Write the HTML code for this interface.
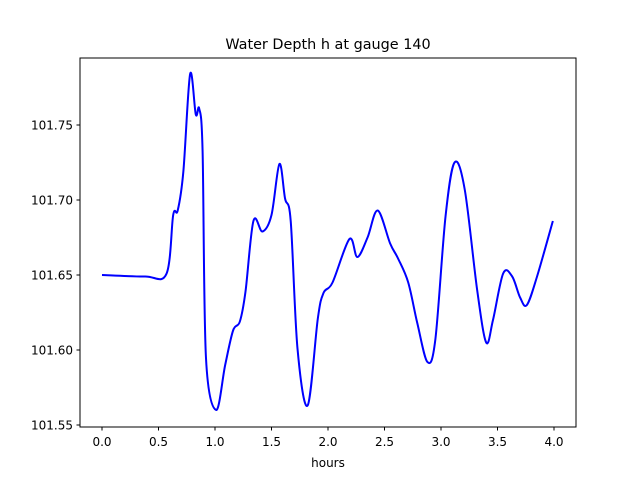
<!DOCTYPE html>
<html><head><meta charset="utf-8"><style>
body{margin:0;background:#fff}
svg text{font-family:"DejaVu Sans","Liberation Sans",sans-serif;fill:#000}
</style></head><body>
<svg id="chart" width="640" height="480" xmlns="http://www.w3.org/2000/svg">
<rect width="640" height="480" fill="#fff"/>
<text x="328" y="49" font-size="14.4" text-anchor="middle">Water Depth h at gauge 140</text>
<g id="ticks"></g>
<path id="line" fill="none" stroke="#0000ff" stroke-width="2"/>
<rect x="80" y="58" width="496" height="369" fill="none" stroke="#000" stroke-width="1"/>
<text x="328" y="467" font-size="12" text-anchor="middle">hours</text>
</svg>
<script>
const xs=[0,0.38,0.57,0.63,0.67,0.72,0.78,0.83,0.86,0.89,0.92,1.01,1.09,1.16,1.22,1.27,1.34,1.42,1.50,1.57,1.62,1.67,1.73,1.82,1.91,1.96,2.04,2.19,2.26,2.35,2.44,2.55,2.62,2.71,2.79,2.88,2.95,3.04,3.12,3.21,3.32,3.40,3.46,3.55,3.63,3.70,3.76,3.85,3.99];
const ys=[101.65,101.649,101.6507,101.69,101.693,101.719,101.784,101.757,101.761,101.733,101.595,101.56,101.59,101.613,101.619,101.639,101.686,101.679,101.69,101.724,101.701,101.686,101.601,101.563,101.621,101.638,101.645,101.674,101.662,101.675,101.693,101.671,101.661,101.645,101.618,101.592,101.607,101.689,101.725,101.707,101.64,101.605,101.62,101.651,101.649,101.635,101.63,101.649,101.686];
const xTicks=[0,0.5,1,1.5,2,2.5,3,3.5,4];
const xTickLabels=["0.0","0.5","1.0","1.5","2.0","2.5","3.0","3.5","4.0"];
const yTicks=[101.55,101.6,101.65,101.7,101.75];
const yTickLabels=["101.55","101.60","101.65","101.70","101.75"];
function X(v){return 102+v*113;}
function Y(v){return 275-(v-101.65)*1500;}
const NS="http://www.w3.org/2000/svg";
const g=document.getElementById('ticks');
xTicks.forEach((t,i)=>{
 const l=document.createElementNS(NS,'line');
 
 
 l.setAttribute('x1',X(t));l.setAttribute('x2',X(t));l.setAttribute('y1',427);l.setAttribute('y2',430.5);l.setAttribute('stroke','#000');
 g.appendChild(l);
 const tx=document.createElementNS(NS,'text');
 
 
 tx.setAttribute('x',X(t));tx.setAttribute('y',446);tx.setAttribute('font-size','12');tx.setAttribute('text-anchor','middle');
 tx.textContent=xTickLabels[i];g.appendChild(tx);
});
yTicks.forEach((t,i)=>{
 const l=document.createElementNS(NS,'line');
 
 
 l.setAttribute('x1',76.5);l.setAttribute('x2',80);l.setAttribute('y1',Y(t));l.setAttribute('y2',Y(t));l.setAttribute('stroke','#000');
 g.appendChild(l);
 const tx=document.createElementNS(NS,'text');
 
 
 tx.setAttribute('x',73);tx.setAttribute('y',Y(t)+4.5);tx.setAttribute('font-size','12');tx.setAttribute('text-anchor','end');
 tx.textContent=yTickLabels[i];g.appendChild(tx);
});
const P=xs.map((x,i)=>[X(x),Y(ys[i])]);
let d='M'+P[0][0]+','+P[0][1];
for(let i=0;i<P.length-1;i++){
 const p0=P[Math.max(0,i-1)],p1=P[i],p2=P[i+1],p3=P[Math.min(P.length-1,i+2)];
 const c1=[p1[0]+(p2[0]-p0[0])/6,p1[1]+(p2[1]-p0[1])/6];
 const c2=[p2[0]-(p3[0]-p1[0])/6,p2[1]-(p3[1]-p1[1])/6];
 d+=' C'+c1[0].toFixed(2)+','+c1[1].toFixed(2)+' '+c2[0].toFixed(2)+','+c2[1].toFixed(2)+' '+p2[0].toFixed(2)+','+p2[1].toFixed(2);
}
document.getElementById('line').setAttribute('d',d);
</script>
</body></html>
